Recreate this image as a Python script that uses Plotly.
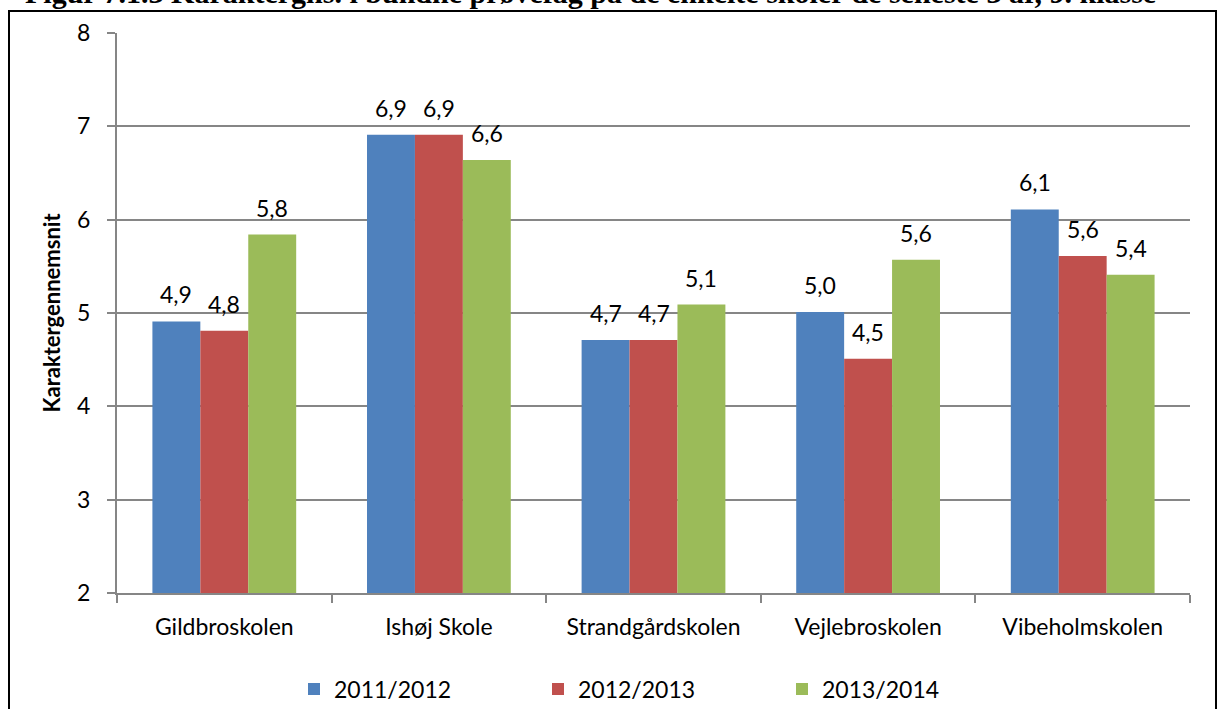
import plotly.graph_objects as go

schools = ["Gildbroskolen", "Ishøj Skole", "Strandgårdskolen", "Vejlebroskolen", "Vibeholmskolen"]
years = ["2011/2012", "2012/2013", "2013/2014"]
v_2011 = [4.91, 6.91, 4.71, 5.01, 6.11]
v_2012 = [4.81, 6.91, 4.71, 4.51, 5.61]
v_2013 = [5.84, 6.64, 5.09, 5.57, 5.41]
colors = ["#4F81BD", "#C0504D", "#9BBB59"]
y_ticks = [2, 3, 4, 5, 6, 7, 8]
title_text = "Figur 7.1.3 Karaktergns. i bundne prøvefag på de enkelte skoler de seneste 3 år, 9. klasse"
y_title = "Karaktergennemsnit"

series = [v_2011, v_2012, v_2013]
FONT = "Lato"
FS = 23

W, H = 1219, 709
L, R, T, B = 117, 29, 33, 116
pw = W - L - R
ph = H - T - B
bargap = 0.33
band = pw / len(schools)
barw = band * (1 - bargap) / len(years)


def px_x(px):
    return (px - L) / pw


def px_y(py):
    return (H - B - py) / ph


fig = go.Figure()
for i, (name, vals) in enumerate(zip(years, series)):
    fig.add_trace(go.Bar(x=schools, y=vals, name=name, marker_color=colors[i],
                         marker_line_width=0))

annotations = []
for i, vals in enumerate(series):
    off = (i - 1) * barw
    for s, v in zip(schools, vals):
        annotations.append(dict(x=s, y=v, xref="x", yref="y", text=f"{v:.1f}".replace(".", ","),
                                showarrow=False, xshift=off, yshift=11, yanchor="bottom",
                                font=dict(family=FONT, size=FS, color="black")))

annotations.append(dict(x=px_x(23), y=px_y(-8), xref="paper", yref="paper",
                        xanchor="left", yanchor="middle", showarrow=False, text="<b>" + title_text + "</b>",
                        font=dict(family="Liberation Serif", size=30, color="black")))

shapes = [dict(type="rect", xref="paper", yref="paper",
               x0=px_x(9), x1=px_x(1216),
               y0=px_y(730), y1=px_y(11),
               line=dict(color="black", width=2), fillcolor="rgba(0,0,0,0)", layer="below")]

fig.update_layout(
    width=W, height=H,
    margin=dict(l=L, r=R, t=T, b=B, autoexpand=False),
    paper_bgcolor="white", plot_bgcolor="white",
    barmode="group", bargap=bargap, bargroupgap=0,
    font=dict(family=FONT, size=FS, color="black"),
    annotations=annotations, shapes=shapes,
    legend=dict(orientation="h", x=px_x(294), xanchor="left", y=px_y(689), yanchor="middle",
                font=dict(family=FONT, size=FS, color="black"), entrywidth=199, traceorder="normal"),
    xaxis=dict(showline=True, linecolor="#868686", linewidth=2, ticks="outside", tickson="boundaries",
               ticklen=8, tickcolor="#868686", tickwidth=1.5, showgrid=False, ticklabelstandoff=12),
    yaxis=dict(range=[2, 8], tickvals=y_ticks, showline=True, linecolor="#868686", linewidth=2,
               ticks="outside", ticklen=8, tickcolor="#868686", tickwidth=1.5,
               showgrid=True, gridcolor="#868686", gridwidth=2, zeroline=False,
               title=dict(text="<b>" + y_title + "</b>", font=dict(family=FONT, size=22), standoff=10),
               ticklabelstandoff=12),
)

fig.write_html("out.html", config={"displayModeBar": False},
               post_script="document.body.style.margin='0';")
